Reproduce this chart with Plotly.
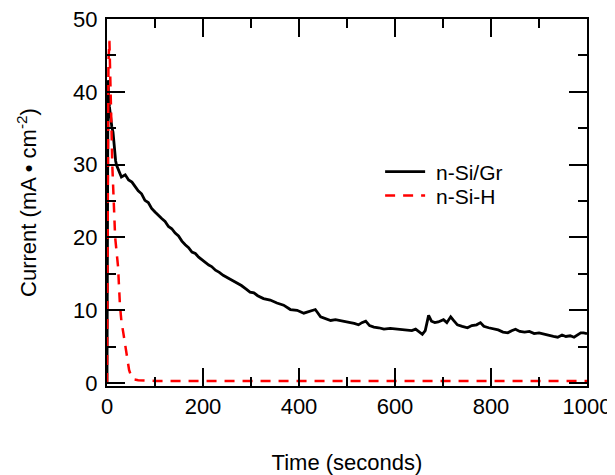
import plotly.graph_objects as go

# Duomenys: n-Si/Gr (juoda linija)
laikas_gr = [0, 1, 2, 3, 5, 8, 10, 12.5, 15, 18, 20, 25, 30, 38, 45, 52, 58, 65, 72, 79,
             86, 93, 100, 107, 114, 121, 128, 135, 142, 149, 156, 163, 170, 177, 184, 191,
             198, 205, 212, 218, 226, 234, 242, 253, 262, 270, 280, 290, 298, 306, 314,
             326, 340, 354, 368, 382, 396, 410, 422, 434, 445, 455, 466, 476, 486, 497,
             507, 515, 524, 531, 539, 547, 556, 566, 577, 590, 605, 615, 626, 635, 643,
             650, 657, 663, 670, 676, 683, 690, 701, 708, 716, 722, 730, 740, 751, 760,
             770, 778, 785, 795, 805, 815, 825, 835, 843, 851, 860, 870, 880, 890, 900,
             910, 920, 930, 939, 948, 956, 965, 973, 980, 987, 993, 1000]
srove_gr = [0, 25, 41.6, 40, 38, 36, 35.2, 34.5, 32, 30.5, 29.9, 29.2, 28.3, 28.6, 27.9,
            27.6, 27.0, 26.4, 26.0, 25.1, 24.8, 24.0, 23.5, 23.0, 22.6, 22.2, 21.5, 21.2,
            20.6, 20.2, 19.5, 19.0, 18.6, 18.0, 17.8, 17.3, 16.9, 16.6, 16.2, 16.0, 15.5,
            15.2, 14.8, 14.4, 14.1, 13.8, 13.4, 12.9, 12.5, 12.4, 12.0, 11.6, 11.4, 11.0,
            10.7, 10.1, 10.0, 9.6, 9.8, 10.1, 9.1, 8.9, 8.6, 8.7, 8.6, 8.4, 8.3, 8.2, 8.0,
            8.3, 8.5, 7.9, 7.7, 7.6, 7.4, 7.5, 7.4, 7.3, 7.3, 7.2, 7.4, 7.0, 6.7, 7.2, 9.3,
            8.5, 8.3, 8.4, 8.7, 8.3, 9.1, 8.6, 8.0, 7.8, 7.6, 7.9, 8.0, 8.3, 7.8, 7.6, 7.5,
            7.3, 7.0, 6.9, 7.2, 7.4, 7.1, 7.0, 7.1, 6.8, 6.9, 6.7, 6.6, 6.4, 6.3, 6.6, 6.4,
            6.5, 6.3, 6.6, 6.9, 6.9, 6.8]

# Duomenys: n-Si-H (raudona punktyrine linija)
laikas_h = [0, 1, 2, 3, 5, 7, 9, 11, 13, 15, 17, 20, 23, 27, 30, 34, 38, 42, 46, 51, 56,
            65, 80, 100, 200, 400, 600, 800, 1000]
srove_h = [0, 15, 35, 44, 47, 43, 36, 30, 26, 22, 20, 18, 16, 10.7, 8.5, 6.9, 5, 3.2, 1.8,
           0.8, 0.5, 0.4, 0.35, 0.3, 0.3, 0.3, 0.3, 0.3, 0.3]

srift = 'Liberation Sans, Arial, sans-serif'
dydis = 22

fig = go.Figure()
fig.add_trace(go.Scatter(x=laikas_gr, y=srove_gr, mode='lines', name='\u00a0n-Si/Gr',
                         line=dict(color='black', width=2.8), legend='legend'))
fig.add_trace(go.Scatter(x=laikas_h, y=srove_h, mode='lines', name='\u00a0n-Si-H',
                         line=dict(color='#ff0000', width=2.5, dash='10px,8px'), legend='legend2'))

# Asys su varnelemis viduje ir visose pusese
asis = dict(
    showgrid=False, zeroline=False, showline=True, linecolor='black', linewidth=2,
    mirror='allticks', ticks='inside', ticklen=18, tickwidth=2, tickcolor='black',
    tickfont=dict(size=dydis, color='black', family=srift), automargin=False,
    ticklabeloverflow='allow',
)
fig.update_xaxes(range=[0, 1000], dtick=200, tick0=0,
                 minor=dict(dtick=100, ticks='inside', ticklen=9, tickwidth=2, tickcolor='black'),
                 title=dict(text='Time (seconds)', font=dict(size=dydis, color='black', family=srift),
                            standoff=40),
                 **asis)
fig.update_yaxes(range=[-0.4, 50], dtick=10, tick0=0, ticklabelstandoff=3,
                 minor=dict(dtick=5, ticks='inside', ticklen=9, tickwidth=2, tickcolor='black'),
                 title=dict(text='Current (mA • cm<sup>-2</sup>)',
                            font=dict(size=dydis, color='black', family=srift), standoff=30),
                 **asis)

legendos_stilius = dict(xanchor='left', yanchor='middle', bgcolor='rgba(0,0,0,0)',
                        itemwidth=40, font=dict(size=21, family=srift, color='black'))

# Puslapis turi 8px parastes, todel figura siek tiek mazesne
fig.update_layout(
    width=607, height=467,
    margin=dict(l=99, r=28, t=11, b=89),
    plot_bgcolor='white', paper_bgcolor='white',
    font=dict(family=srift, color='black'),
    showlegend=True,
    legend=dict(x=0.569, y=0.583, **legendos_stilius),
    legend2=dict(x=0.569, y=0.518, **legendos_stilius),
)

fig.write_html("out.html")
